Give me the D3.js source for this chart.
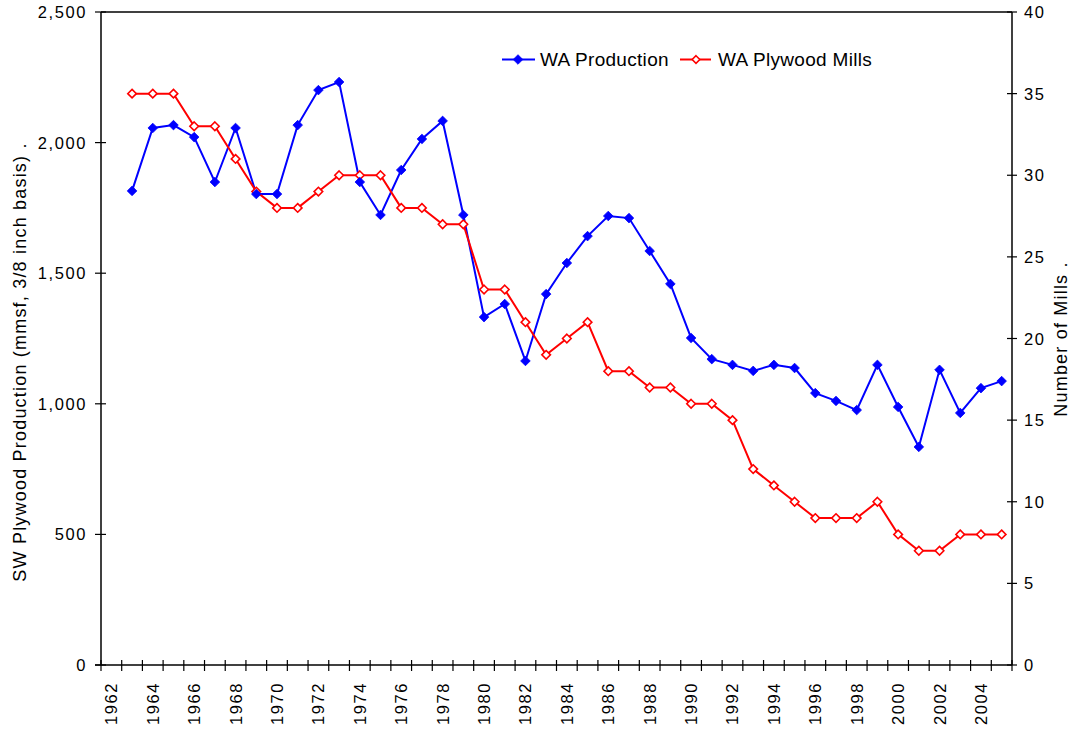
<!DOCTYPE html>
<html>
<head>
<meta charset="utf-8">
<script src="https://cdn.jsdelivr.net/npm/d3@7"></script>
<style>
  html, body { margin: 0; padding: 0; background: #fff; }
  svg { display: block; font-family: "Liberation Sans", Arial, sans-serif; }
</style>
</head>
<body>
<svg id="chart" width="1070" height="730"></svg>
<script>
// ---- data ----
const years = d3.range(1962, 2006); // category axis 1962..2005
const dataYears = d3.range(1963, 2006);
const production = [1815, 2056, 2067, 2021, 1849, 2056, 1803, 1803, 2067, 2201, 2232, 1849, 1723, 1895, 2014, 2083, 1723,
  1332, 1382, 1164, 1420, 1539, 1642, 1719, 1711, 1585, 1459, 1252, 1171, 1149, 1126, 1149, 1137, 1041, 1011, 976, 1149,
  988, 835, 1130, 965, 1060, 1087];
const mills = [35, 35, 35, 33, 33, 31, 29, 28, 28, 29, 30, 30, 30, 28, 28, 27, 27, 23, 23, 21, 19, 20, 21, 18, 18, 17, 17,
  16, 16, 15, 12, 11, 10, 9, 9, 9, 10, 8, 7, 7, 8, 8, 8];
const leftTicks = [0, 500, 1000, 1500, 2000, 2500];
const rightTicks = [0, 5, 10, 15, 20, 25, 30, 35, 40];
const yearLabels = d3.range(1962, 2006, 2);
const seriesNames = ["WA Production", "WA Plywood Mills"];
const leftTitle = "SW Plywood Production (mmsf, 3/8 inch basis)  .";
const rightTitle = "Number of Mills  .";

// ---- layout ----
const L = 101, R = 1012, T = 12, B = 665;
const svg = d3.select("#chart");

const x = d3.scaleBand().domain(years).range([L, R]).padding(0);
const cx = d => x(d) + x.bandwidth() / 2;
const yL = d3.scaleLinear().domain([0, 2500]).range([B, T]);
const yR = d3.scaleLinear().domain([0, 40]).range([B, T]);

const axisColor = "#000";
const tickFont = 16.5;

// frame: top line
svg.append("line").attr("x1", L).attr("x2", R).attr("y1", T).attr("y2", T)
  .attr("stroke", axisColor).attr("stroke-width", 1.3);

// left axis
svg.append("line").attr("x1", L).attr("x2", L).attr("y1", T).attr("y2", B)
  .attr("stroke", axisColor).attr("stroke-width", 1.5);
const gl = svg.append("g");
gl.selectAll("line").data(leftTicks).join("line")
  .attr("x1", L - 6).attr("x2", L + 5)
  .attr("y1", d => yL(d)).attr("y2", d => yL(d))
  .attr("stroke", axisColor).attr("stroke-width", 1.2);
gl.selectAll("text").data(leftTicks).join("text")
  .attr("x", 87).attr("y", d => yL(d))
  .attr("text-anchor", "end").attr("dominant-baseline", "central")
  .attr("font-size", tickFont).attr("letter-spacing", 1.6)
  .attr("fill", "#000")
  .text(d => d3.format(",")(d));

// right axis
svg.append("line").attr("x1", R).attr("x2", R).attr("y1", T).attr("y2", B)
  .attr("stroke", axisColor).attr("stroke-width", 1.5);
const gr = svg.append("g");
gr.selectAll("line").data(rightTicks).join("line")
  .attr("x1", R - 5).attr("x2", R + 5)
  .attr("y1", d => yR(d)).attr("y2", d => yR(d))
  .attr("stroke", axisColor).attr("stroke-width", 1.2);
gr.selectAll("text").data(rightTicks).join("text")
  .attr("x", 1024).attr("y", d => yR(d))
  .attr("text-anchor", "start").attr("dominant-baseline", "central")
  .attr("font-size", tickFont).attr("letter-spacing", 1.6)
  .attr("fill", "#000")
  .text(d => d);

// bottom axis
svg.append("line").attr("x1", L - 6).attr("x2", R).attr("y1", B).attr("y2", B)
  .attr("stroke", axisColor).attr("stroke-width", 1.5);
const bounds = years.map(d => x(d)).concat([R]);
svg.append("g").selectAll("line").data(bounds).join("line")
  .attr("x1", d => d).attr("x2", d => d)
  .attr("y1", B - 5).attr("y2", B + 6)
  .attr("stroke", axisColor).attr("stroke-width", 1.2);
svg.append("g").selectAll("text").data(yearLabels).join("text")
  .attr("transform", d => `translate(${cx(d)},682) rotate(-90)`)
  .attr("text-anchor", "end").attr("dominant-baseline", "central")
  .attr("font-size", tickFont).attr("letter-spacing", 1.6)
  .attr("fill", "#000")
  .text(d => d);

// axis titles
svg.append("text")
  .attr("transform", `translate(26,362) rotate(-90)`)
  .attr("text-anchor", "middle")
  .attr("font-size", 18).attr("letter-spacing", 1.2)
  .attr("fill", "#000")
  .text(leftTitle);
svg.append("text")
  .attr("transform", `translate(1067,339) rotate(-90)`)
  .attr("text-anchor", "middle")
  .attr("font-size", 18).attr("letter-spacing", 1.2)
  .attr("fill", "#000")
  .text(rightTitle);

// ---- series ----
const blue = "#0000FF", red = "#FF0000";
const diamond = (s) => `M0,${-s}L${s},0L0,${s}L${-s},0Z`;

const prodPts = dataYears.map((yr, i) => [cx(yr), yL(production[i])]);
const millPts = dataYears.map((yr, i) => [cx(yr), yR(mills[i])]);
const line = d3.line();

svg.append("path").attr("d", line(prodPts))
  .attr("fill", "none").attr("stroke", blue).attr("stroke-width", 2);
svg.append("path").attr("d", line(millPts))
  .attr("fill", "none").attr("stroke", red).attr("stroke-width", 2);

svg.append("g").selectAll("path").data(millPts).join("path")
  .attr("transform", d => `translate(${d[0]},${d[1]})`)
  .attr("d", diamond(4.3))
  .attr("fill", "#fff").attr("stroke", red).attr("stroke-width", 1.6);
svg.append("g").selectAll("path").data(prodPts).join("path")
  .attr("transform", d => `translate(${d[0]},${d[1]})`)
  .attr("d", diamond(4.8))
  .attr("fill", blue).attr("stroke", blue).attr("stroke-width", 0.8);

// ---- legend ----
const legend = [
  { name: seriesNames[0], color: blue, x0: 502, x1: 535, mx: 518, tx: 540, filled: true },
  { name: seriesNames[1], color: red, x0: 680, x1: 711, mx: 696, tx: 718, filled: false }
];
const ly = 59.5;
const lg = svg.append("g");
legend.forEach(l => {
  lg.append("line").attr("x1", l.x0).attr("x2", l.x1).attr("y1", ly).attr("y2", ly)
    .attr("stroke", l.color).attr("stroke-width", 2);
  lg.append("path").attr("transform", `translate(${l.mx},${ly})`)
    .attr("d", diamond(l.filled ? 4.8 : 3.8))
    .attr("fill", l.filled ? l.color : "#fff").attr("stroke", l.color)
    .attr("stroke-width", l.filled ? 0.8 : 1.6);
  lg.append("text").attr("x", l.tx).attr("y", ly)
    .attr("dominant-baseline", "central")
    .attr("font-size", 19).attr("letter-spacing", 0.3)
    .attr("fill", "#000")
    .text(l.name);
});
</script>
</body>
</html>
